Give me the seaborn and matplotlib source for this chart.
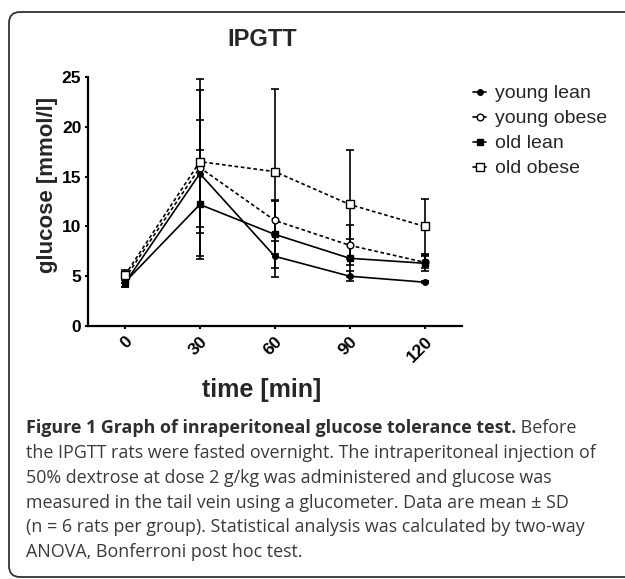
import matplotlib
matplotlib.use("Agg")
import numpy as np
import pandas as pd
import matplotlib.pyplot as plt
import seaborn as sns
from matplotlib.patches import FancyBboxPatch
from matplotlib.transforms import IdentityTransform

# ---- data ----
time_min = [0, 30, 60, 90, 120]
groups = ["young lean", "young obese", "old lean", "old obese"]

young_lean_mean = [4.3, 15.3, 7.0, 5.0, 4.4]
young_lean_sd = [0.4, 5.4, 2.1, 0.5, 0.1]
young_obese_mean = [4.8, 15.9, 10.6, 8.1, 6.4]
young_obese_sd = [0.5, 8.9, 2.1, 2.0, 0.6]
old_lean_mean = [4.4, 12.2, 9.2, 6.8, 6.3]
old_lean_sd = [0.5, 5.5, 3.4, 1.9, 0.8]
old_obese_mean = [5.1, 16.5, 15.5, 12.2, 10.0]
old_obese_sd = [0.5, 7.2, 8.3, 5.5, 2.8]

means = [young_lean_mean, young_obese_mean, old_lean_mean, old_obese_mean]
sds = [young_lean_sd, young_obese_sd, old_lean_sd, old_obese_sd]

rows = []
for g, m, s in zip(groups, means, sds):
    for t, mv, sv in zip(time_min, m, s):
        rows.append([g, t, mv, sv])
df = pd.DataFrame(rows, columns=["group", "time", "glucose", "sd"])

caption_bold = "Figure 1 Graph of inraperitoneal glucose tolerance test."
caption_lines = [
    " Before",
    "the IPGTT rats were fasted overnight. The intraperitoneal injection of",
    "50% dextrose at dose 2 g/kg was administered and glucose was",
    "measured in the tail vein using a glucometer. Data are mean \u00b1 SD",
    "(n = 6 rats per group). Statistical analysis was calculated by two-way",
    "ANOVA, Bonferroni post hoc test.",
]

# ---- styling ----
sns.set_style("ticks")
plt.rcParams["font.family"] = ["Liberation Sans", "DejaVu Sans"]

W, H = 625, 579
fig = plt.figure(figsize=(W / 100, H / 100), dpi=100)
ax = fig.add_axes([87.5 / W, 1 - 326 / H, (462 - 87.5) / W, (326 - 77) / H])

styles = {
    "young lean": dict(marker="o", mfc="black", ms=4.0, ls="-"),
    "young obese": dict(marker="o", mfc="white", ms=4.8, ls=(0, (2.2, 1.6))),
    "old lean": dict(marker="s", mfc="black", ms=4.0, ls="-"),
    "old obese": dict(marker="s", mfc="white", ms=5.2, ls=(0, (2.2, 1.6))),
}

for g in groups:
    sub = df[df["group"] == g]
    ax.errorbar(sub["time"], sub["glucose"], yerr=sub["sd"], fmt="none",
                ecolor="black", elinewidth=1.2, capsize=3, capthick=1.2, zorder=2)

for g in groups:
    sub = df[df["group"] == g]
    st = styles[g]
    sns.lineplot(data=sub, x="time", y="glucose", ax=ax, color="black",
                 linewidth=1.2, label=g, marker=st["marker"],
                 markersize=st["ms"], markerfacecolor=st["mfc"],
                 markeredgecolor="black", markeredgewidth=1.0,
                 linestyle=st["ls"], zorder=3)

ax.set_xlim(-15, 135)
ax.set_ylim(0, 25)
ax.set_xticks(time_min)
ax.set_yticks([0, 5, 10, 15, 20, 25])
ax.set_xticklabels([str(t) for t in time_min], rotation=45, ha="right",
                   va="top", rotation_mode="anchor", fontweight="bold", fontsize=12.5)
ax.set_yticklabels([str(v) for v in [0, 5, 10, 15, 20, 25]],
                   fontweight="bold", fontsize=12.5)
ax.tick_params(axis="both", direction="out", length=2.5, width=1.5, pad=2, colors="black")
ax.tick_params(axis="x", pad=3)
for sp in ["left", "bottom"]:
    ax.spines[sp].set_linewidth(1.6)
    ax.spines[sp].set_color("black")
sns.despine(ax=ax)

# title and x label are centred a bit left of the axes centre in the original
cx = (262 - 87.5) / (462 - 87.5)
ax.set_xlabel("time [min]", fontsize=18, fontweight="bold")
ax.xaxis.set_label_coords(cx, (326 - 390) / 249, transform=ax.transAxes)
ax.xaxis.label.set_va("center")
ax.set_ylabel("glucose [mmol/l]", fontsize=16, fontweight="bold")
ax.yaxis.set_label_coords((47 - 87.5) / 374.5, (326 - 185) / 249, transform=ax.transAxes)
ax.yaxis.label.set_va("center")
ax.set_title("IPGTT", fontsize=17, fontweight="bold", x=cx, pad=22)

leg = ax.legend(loc="upper left", bbox_to_anchor=(463 / W, 1 - 75 / H),
                bbox_transform=fig.transFigure, frameon=False, fontsize=14,
                handlelength=0.7, handletextpad=0.45, labelspacing=0.38,
                borderpad=0)
for h in leg.get_lines():
    h.set_linestyle("-")

# ---- outer rounded frame ----
frame = FancyBboxPatch((9, 2), 660, H - 12 - 2,
                       boxstyle="round,pad=0,rounding_size=11",
                       transform=IdentityTransform(), facecolor="none",
                       edgecolor="#333333", linewidth=1.3)
fig.patches.append(frame)

# ---- caption ----
cap_font = ["Open Sans", "DejaVu Sans"]
cap_size = 12.9
line_y = [428, 453, 478, 503, 527, 552]
x0 = 26
t_bold = fig.text(x0 / W, 1 - line_y[0] / H, caption_bold, fontsize=cap_size,
                  fontweight="bold", family=cap_font, color="#2e2e2e",
                  ha="left", va="center")
fig.canvas.draw()
bb = t_bold.get_window_extent(renderer=fig.canvas.get_renderer())
fig.text(bb.x1 / W, 1 - line_y[0] / H, caption_lines[0], fontsize=cap_size,
         family=cap_font, color="#3a3a3a", ha="left", va="center")
for ly, txt in zip(line_y[1:], caption_lines[1:]):
    fig.text(x0 / W, 1 - ly / H, txt, fontsize=cap_size, family=cap_font,
             color="#3a3a3a", ha="left", va="center")

fig.savefig("out.png", dpi=100, facecolor="white")
